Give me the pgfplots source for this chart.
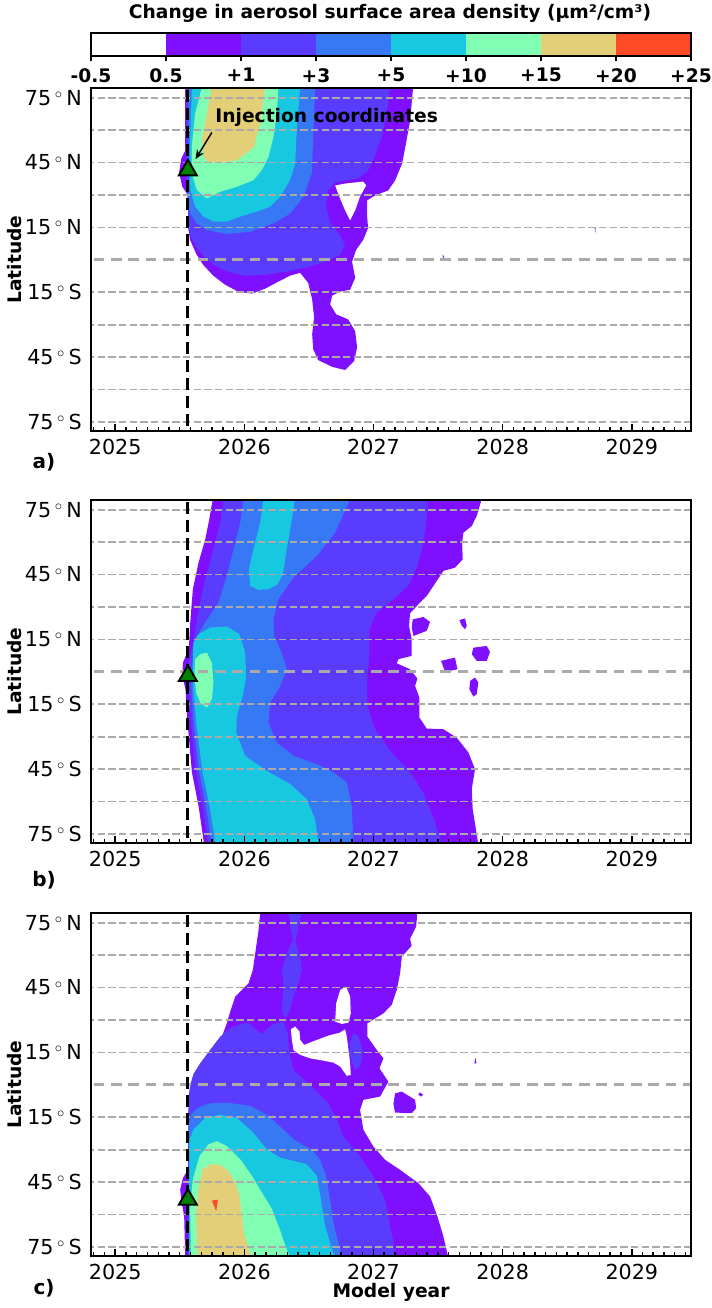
\documentclass[border=0pt]{standalone}
\usepackage{fontspec}
\setmainfont{DejaVu Sans}
\usepackage{pgfplots}
\pgfplotsset{compat=1.18}
\usetikzlibrary{arrows.meta}

\newcommand\tfs{\fontsize{14}{16.5}\selectfont}
\newcommand\kfs{\fontsize{15.5}{18}\selectfont}
\newcommand\dg{\hspace{0.17em}$^\circ$\hspace{0.17em}}

\definecolor{cA}{RGB}{127,15,255}
\definecolor{cB}{RGB}{90,60,255}
\definecolor{cC}{RGB}{55,120,245}
\definecolor{cD}{RGB}{23,200,224}
\definecolor{cE}{RGB}{128,255,180}
\definecolor{cF}{RGB}{227,207,120}
\definecolor{cG}{RGB}{255,74,38}
\definecolor{gridgray}{RGB}{170,170,170}
\definecolor{mkgreen}{RGB}{0,128,0}

\pgfplotsset{
  panel/.style={
    scale only axis, width=450pt, height=257.5pt,
    xmin=2024.8125, xmax=2029.4583, ymin=-79.3, ymax=79.5,
    axis on top,
    axis line style={line width=1.5pt},
    xtick={2025,2026,2027,2028,2029},
    xticklabels={2025,2026,2027,2028,2029},
    minor xtick={2024.83333,2024.91667,...,2029.45},
    xtick pos=left, ytick pos=left, tick align=inside,
    major tick length=5.5pt, minor tick length=3.5pt,
    every tick/.style={black, line width=1.1pt},
    ytick={-75,-45,-15,15,45,75},
    yticklabels={75\dg S, 45\dg S, 15\dg S, 15\dg N, 45\dg N, 75\dg N},
    ytick style={draw=none},
    tick label style={font=\kfs},
    xticklabel style={inner sep=0pt, yshift=-6pt},
    yticklabel style={inner sep=0pt, xshift=-6.75pt},
    ylabel={Latitude},
    every axis y label/.style={at={(rel axis cs:0,0.5)}, xshift=-57.5pt, rotate=90, anchor=center, font=\bfseries\tfs},
    every axis x label/.style={at={(rel axis cs:0.5,0)}, yshift=-27pt, anchor=center, font=\bfseries\tfs},
  },
  ct/.style={draw=none, fill=#1, mark=none, forget plot},
  gl/.style={gridgray, line width=1.3pt, dash pattern=on 5.5pt off 2.5pt, mark=none, forget plot},
  gl0/.style={gridgray, line width=2.3pt, dash pattern=on 8pt off 5pt, mark=none, forget plot},
  vl/.style={black, line width=2.2pt, dash pattern=on 9pt off 4.5pt, mark=none, forget plot},
  inj/.style={only marks, mark=triangle*, mark size=7.8pt, forget plot,
    mark options={fill=mkgreen, draw=black, line width=1.4pt, solid}},
}

\newcommand\latgrid{%
  \pgfplotsinvokeforeach{-75,-60,-45,-30,-15,15,30,45,60,75}{%
    \addplot[gl] coordinates {(2024.7,##1) (2029.6,##1)};}%
  \addplot[gl0] coordinates {(2024.7,0) (2029.6,0)};%
  \addplot[vl] coordinates {(2025.5625,-85) (2025.5625,85)};%
}

\begin{document}
\begin{tikzpicture}
\path[use as bounding box] (0,0) rectangle (534pt,-981pt);

% colour bar
\node[font=\bfseries\tfs] at (292.5pt,-9.75pt) {Change in aerosol surface area density (µm²/cm³)};
\begin{axis}[
  scale only axis, width=450pt, height=17.25pt,
  at={(68.25pt,-24.75pt)}, anchor=north west,
  xmin=0, xmax=8, ymin=0, ymax=1,
  axis on top, axis line style={line width=1.5pt},
  xtick={0,...,8},
  xticklabels={-0.5,0.5,+1,+3,+5,+10,+15,+20,+25},
  xtick pos=left, tick align=outside, major tick length=4pt,
  every tick/.style={black, line width=1.1pt},
  ytick=\empty,
  xticklabel style={font=\bfseries\tfs, inner sep=0pt, yshift=-5pt},
]
\addplot[ct=white] coordinates {(0,0) (1,0) (1,1) (0,1)};
\addplot[ct=cA] coordinates {(1,0) (2,0) (2,1) (1,1)};
\addplot[ct=cB] coordinates {(2,0) (3,0) (3,1) (2,1)};
\addplot[ct=cC] coordinates {(3,0) (4,0) (4,1) (3,1)};
\addplot[ct=cD] coordinates {(4,0) (5,0) (5,1) (4,1)};
\addplot[ct=cE] coordinates {(5,0) (6,0) (6,1) (5,1)};
\addplot[ct=cF] coordinates {(6,0) (7,0) (7,1) (6,1)};
\addplot[ct=cG] coordinates {(7,0) (8,0) (8,1) (7,1)};
\end{axis}

% ---------------- panel a
\begin{axis}[panel, at={(68.25pt,-66pt)}, anchor=north west]
\addplot[ct=cA] coordinates {(2025.542,80) (2027.307,80) (2027.283,64.2) (2027.245,51.8) (2027.221,44.5) (2027.167,36.7) (2027.113,32.1) (2027.012,29.8) (2026.950,27.5) (2026.950,20.6) (2026.958,14.7) (2026.920,9.2) (2026.865,4.6) (2026.834,-0.9) (2026.858,-8.3) (2026.819,-13.8) (2026.741,-14.7) (2026.680,-16.5) (2026.664,-20.6) (2026.711,-25.2) (2026.803,-27.5) (2026.858,-33.0) (2026.873,-40.4) (2026.850,-46.8) (2026.780,-50.9) (2026.680,-49.5) (2026.571,-46.3) (2026.533,-41.3) (2026.525,-34.4) (2026.540,-26.6) (2026.525,-18.3) (2026.494,-10.6) (2026.432,-6.0) (2026.354,-7.3) (2026.262,-10.1) (2026.161,-13.3) (2026.060,-15.6) (2025.952,-14.7) (2025.851,-11.5) (2025.759,-7.3) (2025.681,-2.3) (2025.627,2.8) (2025.580,9.2) (2025.565,14.7) (2025.565,29.8) (2025.519,33.9) (2025.495,40.4) (2025.511,46.8) (2025.542,50.5)};
\addplot[ct=cA] coordinates {(2027.535,2.5) (2027.547,1.5) (2027.540,0.0)};
\addplot[ct=cA] coordinates {(2028.712,15.0) (2028.720,15.0) (2028.716,12.2)};
\addplot[ct=cB] coordinates {(2025.550,80) (2027.128,80) (2027.105,68.8) (2027.067,57.3) (2027.012,48.2) (2026.958,41.3) (2026.881,37.6) (2026.780,36.7) (2026.703,35.8) (2026.649,32.1) (2026.633,25.2) (2026.664,17.4) (2026.741,11.5) (2026.780,6.9) (2026.741,2.3) (2026.625,-0.9) (2026.471,-3.7) (2026.316,-5.5) (2026.161,-6.9) (2026.006,-7.3) (2025.875,-5.5) (2025.774,-2.8) (2025.681,1.8) (2025.619,6.9) (2025.580,11.5) (2025.565,16.1) (2025.565,27.5) (2025.550,32.1)};
\addplot[ct=cC] coordinates {(2025.568,80) (2026.548,80) (2026.535,60) (2026.522,40) (2026.458,29.2) (2026.355,21.5) (2026.226,16.9) (2026.045,13) (2025.864,12) (2025.710,13.8) (2025.632,16.9) (2025.580,21.5) (2025.568,24.6)};
\addplot[ct=cD] coordinates {(2025.595,80) (2026.432,80) (2026.406,59.9) (2026.393,44.5) (2026.354,36.9) (2026.277,29.2) (2026.200,24.6) (2026.096,22.3) (2025.967,20.0) (2025.864,17.7) (2025.761,17.7) (2025.684,20.0) (2025.619,24.6) (2025.582,32.3) (2025.576,44.5) (2025.582,59.9)};
\addplot[ct=cE] coordinates {(2025.671,80) (2025.619,67.6) (2025.593,52.2) (2025.593,39.9) (2025.632,32.3) (2025.709,28.4) (2025.813,31.5) (2025.942,33.8) (2026.071,36.9) (2026.135,41.5) (2026.187,47.6) (2026.225,56.8) (2026.251,67.6) (2026.264,80)};
\addplot[ct=cF] coordinates {(2025.748,80) (2025.709,67.6) (2025.671,55.3) (2025.684,47.6) (2025.720,45.5) (2025.813,45) (2025.942,46) (2026.071,52) (2026.122,63) (2026.161,80)};
\addplot[ct=white] coordinates {(2026.703,34.4) (2026.780,35.3) (2026.920,36.2) (2026.943,34.4) (2026.896,29.4) (2026.858,22.9) (2026.819,18.3) (2026.780,22.9) (2026.741,28.4)};
\latgrid
\addplot[inj] coordinates {(2025.5625,41.5)};
\node[anchor=west, inner sep=0pt, font=\bfseries\tfs] at (axis cs:2025.774,66) {Injection coordinates};
\draw[-{Stealth[length=7pt,width=6pt]}, line width=1.1pt] (axis cs:2025.748,58.9) -- (axis cs:2025.622,46.6);
\end{axis}

% ---------------- panel b
\begin{axis}[panel, at={(68.25pt,-375pt)}, anchor=north west]
\addplot[ct=cA] coordinates {(2025.756,80) (2027.838,80) (2027.799,72.1) (2027.761,67.5) (2027.696,64.4) (2027.686,59.8) (2027.691,52.1) (2027.631,48.2) (2027.541,46.7) (2027.490,42.1) (2027.412,35.1) (2027.348,31.3) (2027.283,27.1) (2027.275,21.3) (2027.296,15.1) (2027.296,7.4) (2027.193,5.9) (2027.180,4.0) (2027.283,1.2) (2027.340,-3.1) (2027.322,-6.5) (2027.355,-11.9) (2027.355,-21.1) (2027.412,-26.2) (2027.541,-26.5) (2027.644,-30.4) (2027.735,-37.3) (2027.786,-45.0) (2027.761,-54.2) (2027.768,-63.5) (2027.812,-80) (2025.689,-80) (2025.645,-61.9) (2025.594,-46.5) (2025.560,-23.4) (2025.544,-8.0) (2025.519,-1.8) (2025.524,4.3) (2025.570,10.5) (2025.581,22.8) (2025.601,38.2) (2025.645,50.5) (2025.697,61.3) (2025.723,69.0)};
\addplot[ct=cA] coordinates {(2027.304,24.3) (2027.386,25.4) (2027.438,23.1) (2027.412,19.0) (2027.309,16.6) (2027.296,20.5)};
\addplot[ct=cA] coordinates {(2027.665,24.0) (2027.709,24.7) (2027.722,21.3) (2027.709,19.7) (2027.683,21.3)};
\addplot[ct=cA] coordinates {(2027.773,11.2) (2027.877,12.0) (2027.902,9.2) (2027.877,5.1) (2027.799,5.1) (2027.761,8.2)};
\addplot[ct=cA] coordinates {(2027.523,5.1) (2027.631,6.6) (2027.650,1.2) (2027.554,0.0)};
\addplot[ct=cA] coordinates {(2027.748,-4.2) (2027.786,-2.6) (2027.812,-4.9) (2027.799,-10.3) (2027.773,-11.4) (2027.742,-8.0)};
\addplot[ct=cB] coordinates {(2025.839,80) (2027.425,80) (2027.407,69.0) (2027.381,58.2) (2027.340,49.0) (2027.270,39.8) (2027.154,33.6) (2027.025,27.4) (2026.968,19.7) (2026.968,7.4) (2026.953,-1.8) (2026.953,-15.7) (2027.012,-26.5) (2027.141,-37.3) (2027.283,-46.5) (2027.386,-55.8) (2027.477,-69.6) (2027.528,-80) (2025.720,-80) (2025.676,-61.9) (2025.624,-46.5) (2025.586,-23.4) (2025.570,-8.0) (2025.560,1.2) (2025.593,10.5) (2025.617,18.2) (2025.637,25.9) (2025.689,41.3) (2025.761,56.7) (2025.813,69.0)};
\addplot[ct=cC] coordinates {(2025.993,80) (2025.968,69.0) (2025.916,56.7) (2025.864,44.4) (2025.800,32.0) (2025.697,22.8) (2025.619,15.1) (2025.586,-1.8) (2025.591,-8.0) (2025.606,-23.4) (2025.650,-46.5) (2025.702,-61.9) (2025.746,-80) (2026.845,-80) (2026.832,-61.9) (2026.793,-51.2) (2026.690,-46.5) (2026.561,-42.7) (2026.380,-38.8) (2026.251,-32.7) (2026.187,-23.4) (2026.200,-14.2) (2026.277,-6.5) (2026.329,1.2) (2026.290,8.9) (2026.231,16.6) (2026.226,24.3) (2026.264,33.6) (2026.380,43.6) (2026.561,53.6) (2026.703,64.4) (2026.819,80)};
\addplot[ct=cD] coordinates {(2026.148,80) (2026.122,69.0) (2026.076,58.2) (2026.035,47.5) (2026.045,39.8) (2026.110,37.9) (2026.187,38.2) (2026.257,40.5) (2026.298,45.1) (2026.324,55.2) (2026.355,65.9) (2026.393,80)};
\addplot[ct=cD] coordinates {(2025.606,13.6) (2025.645,17.4) (2025.735,20.5) (2025.864,21.0) (2025.962,17.4) (2026.006,8.9) (2026.014,-1.8) (2025.988,-11.1) (2025.942,-20.3) (2025.937,-28.0) (2026.006,-38.8) (2026.174,-45.8) (2026.355,-51.9) (2026.484,-58.9) (2026.548,-68.1) (2026.574,-80) (2025.777,-80) (2025.730,-61.9) (2025.676,-46.5) (2025.627,-23.4) (2025.606,-8.0) (2025.601,7.4)};
\addplot[ct=cE] coordinates {(2025.619,5.9) (2025.658,8.2) (2025.710,8.9) (2025.748,4.3) (2025.761,-4.9) (2025.748,-12.6) (2025.710,-16.5) (2025.658,-14.2) (2025.627,-9.6) (2025.614,-1.8)};
\latgrid
\addplot[inj] coordinates {(2025.5625,-1.8)};
\end{axis}

% ---------------- panel c
\begin{axis}[panel, at={(68.25pt,-684.75pt)}, anchor=north west, xlabel={Model year}]
\addplot[ct=cA] coordinates {(2026.123,80) (2027.340,80) (2027.330,73.2) (2027.283,67.6) (2027.296,64.4) (2027.219,59.3) (2027.206,51.6) (2027.180,43.9) (2027.141,37.0) (2027.077,33.1) (2026.953,28.5) (2026.953,22.3) (2027.025,16.2) (2027.077,12.3) (2027.046,7.7) (2027.115,1.5) (2027.051,-5.4) (2026.922,-6.9) (2026.896,-11.6) (2026.922,-20.8) (2026.999,-28.5) (2027.090,-34.7) (2027.206,-39.3) (2027.348,-45.5) (2027.438,-51.6) (2027.495,-60.9) (2027.541,-70.1) (2027.580,-80) (2025.542,-80) (2025.534,-60.9) (2025.516,-54.7) (2025.503,-48.5) (2025.524,-43.1) (2025.562,-39.3) (2025.568,-8.5) (2025.586,-2.3) (2025.627,3.9) (2025.689,10.0) (2025.761,16.2) (2025.826,22.3) (2025.864,28.5) (2025.895,34.7) (2025.929,40.8) (2026.032,47.0) (2026.066,53.2) (2026.084,60.9) (2026.110,71.6)};
\addplot[ct=cA] coordinates {(2027.167,-3.9) (2027.219,-3.1) (2027.322,-6.9) (2027.330,-10.8) (2027.296,-13.1) (2027.167,-12.8) (2027.154,-8.8)};
\addplot[ct=cA] coordinates {(2027.355,-3.5) (2027.386,-4.5) (2027.366,-5.4) (2027.348,-4.5)};
\addplot[ct=cA] coordinates {(2027.789,12.6) (2027.797,10.0) (2027.781,10.0)};
\addplot[ct=cB] coordinates {(2025.568,-80) (2025.568,-5.4) (2025.581,0) (2025.606,5.1) (2025.658,10.0) (2025.735,16.2) (2025.813,22.3) (2025.890,26.2) (2025.968,28.2) (2026.032,28.8) (2026.091,25.4) (2026.135,23.6) (2026.174,25.7) (2026.226,28.2) (2026.303,29.3) (2026.334,23.9) (2026.355,13.1) (2026.380,6.9) (2026.522,-0.8) (2026.651,-8.5) (2026.729,-17.7) (2026.767,-23.9) (2026.896,-33.1) (2026.999,-42.4) (2027.090,-53.2) (2027.129,-65.5) (2027.180,-80)};
\addplot[ct=cB] coordinates {(2026.342,80) (2026.445,80) (2026.419,73.2) (2026.393,66.3) (2026.432,59.3) (2026.445,53.2) (2026.419,47.0) (2026.380,40.8) (2026.355,34.7) (2026.316,30.8) (2026.290,34.7) (2026.298,40.8) (2026.303,47.0) (2026.290,53.2) (2026.329,60.9) (2026.375,67.0) (2026.355,73.2)};
\addplot[ct=cB] coordinates {(2026.845,23.9) (2026.883,22.3) (2026.922,15.4) (2026.896,8.5) (2026.857,6.9) (2026.819,13.1) (2026.814,19.3)};
\addplot[ct=cC] coordinates {(2025.568,-80) (2025.568,-17.7) (2025.593,-13.1) (2025.645,-10.3) (2025.735,-8.5) (2025.864,-8.2) (2026.045,-9.7) (2026.174,-13.9) (2026.277,-19.3) (2026.393,-25.7) (2026.522,-30.0) (2026.587,-34.7) (2026.633,-42.4) (2026.664,-53.2) (2026.690,-63.9) (2026.729,-73.2) (2026.767,-80)};
\addplot[ct=cD] coordinates {(2025.575,-80) (2025.575,-25.2) (2025.606,-20.6) (2025.697,-15.3) (2025.813,-13.8) (2025.942,-15.3) (2026.071,-22.2) (2026.174,-29.8) (2026.277,-33.6) (2026.483,-36.7) (2026.561,-42.0) (2026.592,-52.8) (2026.625,-65.0) (2026.669,-74.2) (2026.703,-80)};
\addplot[ct=cE] coordinates {(2025.586,-80) (2025.580,-55.8) (2025.601,-43.6) (2025.653,-32.9) (2025.722,-27.5) (2025.787,-26.0) (2025.864,-28.3) (2025.968,-34.4) (2026.058,-42.0) (2026.135,-49.7) (2026.213,-57.3) (2026.277,-67.3) (2026.316,-74.2) (2026.355,-80)};
\addplot[ct=cF] coordinates {(2025.637,-80) (2025.627,-60.4) (2025.645,-48.2) (2025.678,-39.0) (2025.740,-36.7) (2025.813,-37.0) (2025.877,-39.8) (2025.929,-45.1) (2025.962,-51.2) (2025.980,-60.4) (2025.998,-68.8) (2026.032,-75.7) (2026.065,-80)};
\addplot[ct=cG] coordinates {(2025.748,-53.5) (2025.795,-53.1) (2025.782,-58.4)};
\addplot[ct=white] coordinates {(2026.703,29.3) (2026.711,37.7) (2026.742,43.9) (2026.788,45.5) (2026.819,40.8) (2026.824,33.1) (2026.806,28.8) (2026.755,28.2)};
\addplot[ct=white] coordinates {(2026.360,25.7) (2026.393,27.0) (2026.427,24.7) (2026.432,20.8) (2026.463,18.5) (2026.548,20.5) (2026.651,22.8) (2026.742,24.2) (2026.780,25.7) (2026.793,22.3) (2026.806,16.2) (2026.819,10.0) (2026.824,4.6) (2026.793,4.2) (2026.742,8.5) (2026.690,10.3) (2026.613,11.2) (2026.509,12.3) (2026.432,13.9) (2026.380,16.2) (2026.368,20.8)};
\latgrid
\addplot[inj] coordinates {(2025.5625,-53)};
\end{axis}

\node[font=\bfseries\fontsize{15}{18}\selectfont] at (33pt,-346.5pt) {a)};
\node[font=\bfseries\fontsize{15}{18}\selectfont] at (33pt,-660pt) {b)};
\node[font=\bfseries\fontsize{15}{18}\selectfont] at (33pt,-966pt) {c)};
\end{tikzpicture}
\end{document}
